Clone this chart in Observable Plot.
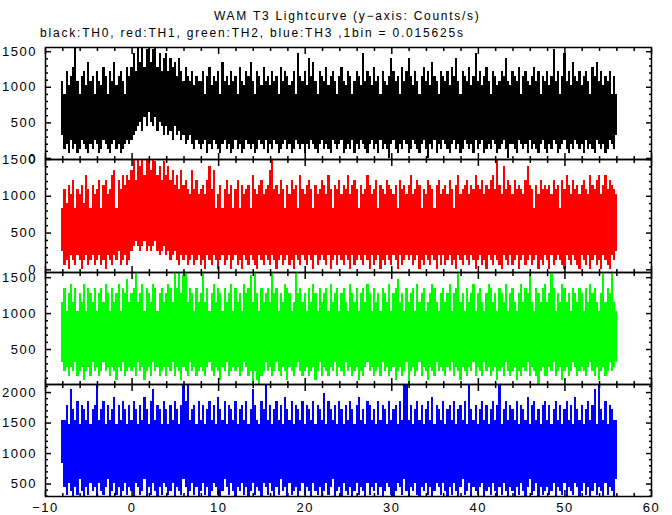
<!DOCTYPE html>
<html><head><meta charset="utf-8">
<script src="https://cdn.jsdelivr.net/npm/d3@7"></script>
<script src="https://cdn.jsdelivr.net/npm/@observablehq/plot@0.6"></script>
<style>
html,body{margin:0;padding:0;background:#fff;}
#chart{position:relative;width:672px;height:515px;overflow:hidden;font-family:"Liberation Sans",Arial,sans-serif;background:#fff;}
#chart svg{position:absolute;left:0;}
.ttl{position:absolute;white-space:nowrap;font-size:12px;line-height:1;color:#000;font-family:"Liberation Sans",Arial,sans-serif;}
g[aria-label$="tick label"] text{letter-spacing:1.5px;}
</style></head><body><div id="chart"></div>
<script>
// envelope grid: 0.25 s columns from -8 s to 56 s (257 values per array, rows of 4 s)
const T0 = -8, DT = 0.25;

const TITLE = "WAM T3 Lightcurve (y\u2212axis: Counts/s)";
const SUBTITLE = "black:TH0, red:TH1, green:TH2, blue:TH3 ,1bin = 0.015625s";

const X_MAJOR = [-10, 0, 10, 20, 30, 40, 50, 60];
const Y_MAJOR_TH0 = [0, 500, 1000, 1500];
const Y_MAJOR_TH1 = [0, 500, 1000, 1500];
const Y_MAJOR_TH2 = [500, 1000, 1500];
const Y_MAJOR_TH3 = [500, 1000, 1500, 2000];

// ---- TH0 (black): max / min counts/s in each column ----
const TH0_HI = [
1088,896,1216,1024,1152,1280,1600,1088,896,1152,1216,1024,1344,1088,1152,896,
1216,1088,1024,1280,1152,896,1216,1088,1344,1024,1152,1216,1088,896,1280,1152,
1280,1472,1216,1600,1344,1600,1280,1536,1600,1344,1536,1600,1280,1472,1216,1408,
1472,1216,1408,1280,1344,1152,1408,1216,1088,1280,1152,1088,1216,1024,1152,1088,
1088,1216,896,1152,1280,1024,1152,1088,1216,896,1344,1088,1152,1024,1216,1088,
1152,896,1280,1088,1024,1216,1152,1344,1088,896,1216,1152,1024,1280,1088,1152,
1024,1216,1088,1152,896,1280,1088,1216,1152,1024,1088,1216,896,1472,1152,1088,
1216,1024,1408,1152,1344,1088,896,1216,1152,1088,1280,1024,1152,1216,1088,896,
1152,1280,1088,1024,1216,1152,896,1088,1216,1152,1024,1472,1088,1216,1152,1024,
1280,1088,1152,896,1216,1088,1024,1152,1408,1216,1088,1152,896,1280,1088,1216,
1408,1152,1024,1216,1088,896,1152,1280,1088,1216,1024,1344,1152,1088,896,1216,
1152,1088,1216,1024,1280,1152,1408,1088,896,1216,1152,1088,1280,1024,1152,1472,
1088,1216,1024,1152,1280,1088,896,1216,1152,1024,1088,1216,1152,1408,1088,1024,
1216,1152,1088,1280,896,1152,1216,1088,1024,1152,1280,1088,1216,896,1152,1088,
1216,1024,1152,1536,1088,1216,896,1152,1472,1088,1216,1024,1344,1152,1088,1216,
1024,1152,1216,1088,896,1280,1152,1344,1088,1216,1024,1152,1088,1216,896,1152,
896];
const TH0_LO = [
320,128,192,64,256,128,192,64,128,256,192,128,64,192,128,256,
192,64,128,256,192,128,64,192,256,128,192,64,128,192,256,192,
256,320,384,448,512,384,576,448,640,512,448,576,384,512,448,320,
448,320,384,256,448,320,384,256,320,192,256,320,192,128,256,192,
128,192,256,64,192,128,256,192,128,64,192,256,128,192,64,128,
256,128,192,64,128,256,192,128,192,64,128,256,192,128,256,64,
192,128,256,192,64,128,192,256,128,192,64,128,256,192,128,192,
64,192,128,256,192,128,64,192,256,128,192,128,64,256,192,128,
192,256,64,128,192,128,256,64,192,128,256,192,128,64,192,256,
128,192,64,256,128,192,128,0,192,256,128,64,192,128,256,192,
64,128,256,192,128,64,192,256,128,0,192,128,256,64,192,128,
256,192,128,64,192,256,128,192,64,128,256,192,128,192,64,256,
128,192,256,64,128,192,128,256,192,64,128,192,256,128,0,192,
192,128,64,256,192,128,192,64,256,128,192,128,64,192,256,128,
64,192,128,256,192,64,128,192,256,128,64,192,128,256,192,128,
192,64,256,128,192,128,64,256,192,128,192,64,128,256,192,128,
320];

// ---- TH1 (red) ----
const TH1_HI = [
832,1088,896,1152,1024,1216,832,1088,1024,1152,896,1280,1088,832,1152,1024,
1088,1216,832,1152,1216,1024,1088,1280,1344,832,1216,1088,1280,1152,1280,1216,
1344,1536,1216,1600,1408,1536,1280,1600,1536,1344,1600,1472,1280,1408,1216,1472,
1280,1408,1216,1344,1152,1280,1088,1344,1152,1216,1088,1024,1344,1088,1216,1024,
1088,1152,1024,1216,1408,1088,1344,832,1024,1152,832,1088,1216,1024,1152,832,
1088,1216,832,1152,1024,1088,1152,832,1280,1088,1024,1152,1216,1024,1088,1152,
1344,1536,1088,1152,1024,1216,1088,832,1152,1024,1216,1088,1152,832,1280,1088,
1024,1152,1216,1088,832,1152,1024,1088,1216,1152,1024,1280,1088,832,1152,1088,
1216,1024,1152,1088,1280,1024,1152,1216,1088,832,1152,1024,1088,1280,1152,1024,
1088,1216,832,1152,1088,1024,1216,1152,1088,1024,1152,832,1216,1088,1152,1024,
1152,1280,1024,1088,1216,1152,832,1088,1024,1216,1152,1088,832,1152,1216,1024,
1088,1152,1024,1216,1088,832,1152,1280,1024,1088,1152,1216,1024,1152,1088,1280,
1152,1088,1216,1024,1152,1088,1216,1280,1088,1536,1152,1024,1408,1088,1216,1152,
1024,1216,1088,1152,1088,1024,1216,1408,1152,1088,832,1152,1024,1216,1088,1152,
1088,1152,1024,1216,1088,1152,832,1216,1088,1280,1152,1024,1216,1088,1152,1024,
1152,1216,1088,1024,1280,1152,1088,1216,1280,1024,1152,1280,1088,1216,1152,1088,
1024];
const TH1_LO = [
256,64,128,0,192,128,64,192,128,0,128,192,64,128,192,64,
128,192,64,128,0,192,128,64,192,128,256,64,128,192,64,128,
256,320,384,320,256,320,384,256,320,256,320,384,256,192,256,320,
192,256,128,192,256,128,64,192,128,192,64,128,192,64,128,192,
64,128,0,192,128,64,192,128,0,128,192,64,128,192,0,128,
192,64,128,0,192,128,64,192,128,64,0,192,128,64,192,128,
64,192,128,0,128,192,64,128,192,64,128,0,192,128,64,192,
128,64,192,128,0,192,64,128,192,128,64,192,0,128,192,64,
192,128,64,192,128,0,192,64,128,192,128,64,192,128,0,192,
64,128,192,0,128,64,192,128,64,192,128,0,192,64,128,192,
128,192,64,128,192,0,128,64,192,128,64,192,128,0,192,64,
192,64,128,192,64,128,0,192,128,64,192,128,64,192,128,0,
128,192,64,128,0,192,128,64,192,128,64,0,192,128,64,192,
64,128,192,0,128,192,64,128,192,64,128,192,0,128,64,192,
128,0,192,64,128,192,128,64,0,192,128,64,192,128,64,0,
192,128,64,192,0,128,192,64,128,0,192,128,64,0,192,128,
256];

// ---- TH2 (green) ----
const TH2_HI = [
1152,1344,1024,1280,1408,1152,1344,1024,1280,1152,1408,1024,1344,1280,1152,1344,
1024,1280,1344,1152,1408,1280,1024,1344,1152,1280,1408,1024,1344,1280,1472,1152,
1280,1344,1600,1152,1280,1408,1024,1344,1280,1152,1408,1344,1024,1280,1344,1152,
1280,1408,1344,1152,1600,1344,1600,1280,1536,1600,1152,1344,1280,1024,1344,1152,
1280,1600,1152,1344,1024,1280,1408,1152,1344,1280,1024,1344,1152,1280,1408,1024,
1344,1152,1280,1024,1408,1280,1344,1536,1152,1600,1280,1024,1344,1152,1280,1344,
1152,1600,1280,1344,1024,1280,1152,1408,1344,1280,1024,1152,1600,1280,1344,1152,
1280,1024,1344,1152,1408,1280,1024,1344,1152,1280,1344,1024,1408,1152,1280,1344,
1024,1280,1344,1152,1024,1408,1280,1152,1344,1024,1280,1344,1152,1408,1280,1024,
1344,1152,1280,1024,1344,1280,1152,1408,1024,1280,1344,1472,1152,1280,1024,1344,
1152,1280,1344,1024,1408,1152,1280,1344,1024,1152,1280,1408,1344,1152,1024,1280,
1344,1152,1280,1408,1024,1280,1344,1600,1152,1280,1024,1344,1152,1280,1408,1024,
1280,1344,1152,1024,1280,1408,1344,1152,1280,1024,1344,1280,1152,1408,1024,1280,
1344,1152,1024,1280,1408,1152,1344,1280,1600,1152,1024,1344,1280,1152,1344,1408,
1152,1280,1600,1344,1024,1280,1152,1408,1344,1152,1280,1024,1344,1280,1152,1344,
1280,1024,1344,1152,1408,1280,1344,1152,1024,1280,1600,1152,1344,1280,1600,1152,
1024];
const TH2_LO = [
320,192,256,128,256,192,320,128,192,256,64,192,256,128,320,192,
256,128,192,320,192,256,128,256,192,64,256,192,320,128,192,256,
192,256,128,320,192,256,64,192,256,128,320,192,256,128,192,256,
128,256,192,320,128,256,192,64,256,192,128,320,192,256,128,192,
256,192,128,256,320,192,128,256,192,64,256,192,320,128,192,256,
192,256,128,192,320,256,128,192,0,192,64,0,128,192,320,192,
256,128,192,320,192,128,256,192,64,256,192,128,256,320,192,128,
192,256,128,192,256,64,192,320,128,256,192,128,256,192,320,128,
256,192,128,320,192,256,128,192,256,64,192,128,256,320,192,256,
128,192,256,128,320,192,256,128,192,256,64,192,256,128,192,320,
0,192,256,128,192,320,128,256,192,64,256,192,128,320,192,256,
192,128,256,192,320,128,256,192,64,256,192,128,256,192,320,128,
256,192,128,320,192,256,128,192,256,64,192,256,128,320,192,128,
192,256,64,192,128,256,192,320,128,256,192,128,0,192,256,128,
128,256,192,320,128,192,256,64,192,256,128,192,320,256,128,192,
256,192,128,256,320,192,128,256,64,192,256,128,192,320,192,256,
320];

// ---- TH3 (blue) ----
const TH3_HI = [
1536,1536,1792,1472,2048,1728,1536,1856,1472,1792,1728,1536,1856,1472,1728,1792,
2200,1536,1728,1856,1472,1792,1536,1728,1920,1472,1792,1536,1856,1728,1472,1792,
1536,1856,1728,1472,1792,1536,1920,1728,1472,1856,2048,1536,1792,1728,1472,1856,
1728,1472,1792,1536,1856,1728,1472,1792,2200,1856,2200,1536,1728,1792,1472,1856,
1536,1792,1472,1728,1856,1536,1792,1472,1920,1728,1536,1856,1472,1792,1728,1536,
1856,1472,1728,1792,1536,1856,1472,1728,2048,1792,1536,1472,1856,1728,2112,1536,
1792,1472,1728,1856,1536,1792,1472,1920,1728,1536,1856,1472,1792,1728,1536,1856,
1472,1792,1728,1536,1856,1472,1792,1728,1536,1984,1472,1856,1728,1536,1792,1472,
1856,1728,1472,1792,1536,1856,1728,1472,1792,1920,1536,1728,1472,1856,1792,1536,
1728,1472,1856,1536,1792,1728,1472,1856,1536,1728,1792,1472,1856,1536,2200,2200,
1536,1792,1472,1728,1856,1536,1792,1472,1728,1856,1536,1920,1472,1792,1728,1536,
1856,1472,1728,1792,1536,1856,1472,1728,1792,1536,1856,1472,2200,1728,1536,1792,
1472,1728,1856,1536,1792,1472,1728,1856,1536,1792,2112,1472,1728,1856,1536,1792,
1728,1536,1856,1472,1792,1728,1536,1920,1472,1792,1856,1536,1728,1472,1792,1856,
1536,1792,1472,1728,1856,1536,1792,1472,1728,1856,1536,1792,1472,1920,1728,1536,
1792,1472,1728,1856,1536,1792,2048,1472,2176,1728,1536,1856,1472,1792,1728,1536,
1536];
const TH3_LO = [
832,448,320,512,384,256,448,320,576,384,256,448,320,512,384,448,
256,512,384,320,448,576,256,384,512,320,448,256,384,512,320,448,
384,256,512,448,320,384,576,256,448,320,512,384,256,448,320,512,
448,320,384,512,256,448,384,320,576,448,256,384,512,320,448,256,
384,512,320,448,256,384,512,448,320,256,384,576,448,320,512,384,
256,448,384,512,320,448,256,384,512,320,448,384,256,512,448,320,
512,384,256,448,320,576,384,448,256,512,320,384,448,256,384,512,
320,448,384,256,512,384,320,448,256,384,512,320,448,576,256,384,
448,256,512,384,320,448,256,384,512,320,448,384,256,512,320,448,
384,512,320,448,256,384,512,448,320,256,384,512,448,320,576,384,
256,448,384,512,320,256,448,384,512,320,448,256,384,512,448,320,
512,384,256,448,320,512,384,256,448,576,320,384,512,256,448,384,
320,448,512,256,384,448,320,512,384,256,448,320,512,384,256,448,
384,256,448,320,512,384,256,448,576,320,384,512,256,448,320,384,
448,320,384,512,256,448,384,320,512,256,448,384,320,512,448,256,
384,512,320,448,256,384,512,320,448,384,256,512,320,448,384,256,
576];

const PANELS = [
  {hi: TH0_HI, lo: TH0_LO, color: "#000000", domain: [-15, 1559], major: Y_MAJOR_TH0, top: 47, bottom: 159},
  {hi: TH1_HI, lo: TH1_LO, color: "#ff0000", domain: [-36, 1500], major: Y_MAJOR_TH1, top: 159, bottom: 272},
  {hi: TH2_HI, lo: TH2_LO, color: "#00ff00", domain: [13, 1572], major: Y_MAJOR_TH2, top: 272, bottom: 384},
  {hi: TH3_HI, lo: TH3_LO, color: "#0000ff", domain: [296, 2132], major: Y_MAJOR_TH3, top: 384, bottom: 496}
];

const chart = document.getElementById("chart");
const X_MINOR = d3.range(-10, 61, 2).filter(v => !X_MAJOR.includes(v));
const xFmt = d => d < 0 ? "\u2212" + Math.abs(d) : String(d);
const none = () => "";
const MAJ = 6, MIN = 3;

PANELS.forEach((p, k) => {
  const last = k === PANELS.length - 1;
  const bins = p.hi.map((h, i) => ({t1: T0 + (i - 0.5) * DT, t2: T0 + (i + 0.5) * DT, hi: h, lo: p.lo[i]}));
  const yMinor = d3.range(Math.ceil(p.domain[0] / 100) * 100, p.domain[1], 100).filter(v => !p.major.includes(v));
  const mt = 10, mb = last ? 30 : 10;
  const h = p.bottom - p.top;
  const svg = Plot.plot({
    width: 672, height: h + mt + mb,
    marginLeft: 45, marginRight: 21, marginTop: mt, marginBottom: mb,
    x: {domain: [-10, 60]},
    y: {domain: p.domain},
    style: {background: "transparent", overflow: "visible", fontFamily: "'Liberation Sans', Arial, sans-serif", color: "black"},
    marks: [
      Plot.rectY(bins, {x1: "t1", x2: "t2", y1: "lo", y2: "hi", fill: p.color, shapeRendering: "crispEdges", clip: true}),
      Plot.frame({stroke: "black", strokeWidth: 1.5}),
      Plot.axisY(p.major, {anchor: "left", tickSize: -MAJ, tickPadding: MAJ + 8.5, tickFormat: d => String(d), fontSize: 13, label: null, strokeWidth: 1.5}),
      Plot.axisY(yMinor, {anchor: "left", tickSize: -MIN, tickFormat: none, label: null, strokeWidth: 1.5}),
      Plot.axisY(p.major, {anchor: "right", tickSize: -MAJ, tickFormat: none, label: null, strokeWidth: 1.5}),
      Plot.axisY(yMinor, {anchor: "right", tickSize: -MIN, tickFormat: none, label: null, strokeWidth: 1.5}),
      Plot.axisX(X_MAJOR, {anchor: "top", tickSize: -MAJ, tickFormat: none, label: null, strokeWidth: 1.5}),
      Plot.axisX(X_MINOR, {anchor: "top", tickSize: -MIN, tickFormat: none, label: null, strokeWidth: 1.5}),
      Plot.axisX(X_MAJOR, {anchor: "bottom", tickSize: -MAJ, tickPadding: MAJ + 6, tickFormat: last ? xFmt : none, fontSize: 13, label: null, strokeWidth: 1.5}),
      Plot.axisX(X_MINOR, {anchor: "bottom", tickSize: -MIN, tickFormat: none, label: null, strokeWidth: 1.5})
    ]
  });
  svg.style.top = (p.top - mt) + "px";
  chart.appendChild(svg);
});

function addText(txt, left, top, target) {
  const el = document.createElement("div");
  el.className = "ttl";
  el.textContent = txt;
  el.style.left = left + "px";
  el.style.top = top + "px";
  chart.appendChild(el);
  const ctx = document.createElement("canvas").getContext("2d");
  const cs = getComputedStyle(el);
  ctx.font = cs.fontSize + " " + cs.fontFamily;
  const w = ctx.measureText(txt).width;
  el.style.letterSpacing = ((target - w) / (txt.length - 1)) + "px";
}
addText(TITLE, 214, 10, 265);
addText(SUBTITLE, 40, 27, 423);
</script></body></html>
